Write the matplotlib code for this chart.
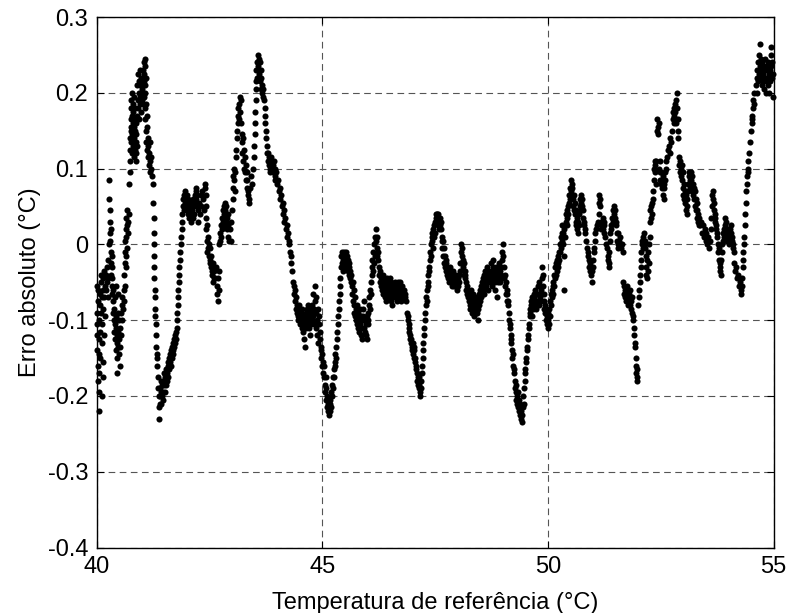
import matplotlib
matplotlib.use("Agg")
import matplotlib.pyplot as plt

plt.rcParams['font.family'] = ['Liberation Sans', 'DejaVu Sans']

# (temperature °C, absolute error °C), grouped by region
seg_40_41 = [
(40.00,-0.055),(40.00,-0.090),(40.00,-0.120),(40.01,-0.140),(40.01,-0.105),(40.02,-0.075),(40.02,-0.160),(40.03,-0.060),(40.03,-0.180),(40.04,-0.125),(40.04,-0.145),(40.05,-0.195),(40.05,-0.100),(40.06,-0.220),(40.06,-0.170),(40.07,-0.080),(40.07,-0.150),(40.08,-0.065),(40.08,-0.115),(40.09,-0.050),(40.09,-0.090),(40.10,-0.040),(40.11,-0.070),(40.11,-0.130),(40.12,-0.105),(40.12,-0.200),(40.13,-0.155),(40.13,-0.175),(40.14,-0.060),(40.15,-0.085),(40.15,-0.045),(40.16,-0.120),(40.17,-0.035),(40.17,-0.070),(40.18,-0.055),(40.19,-0.095),(40.20,-0.040),(40.21,-0.060),(40.22,-0.030),(40.23,-0.050),(40.24,-0.070),(40.25,-0.045),(40.26,-0.020),(40.27,0.000),
(40.28,0.085),(40.28,0.060),(40.29,0.045),(40.29,0.030),(40.30,0.015),(40.30,0.005),(40.31,-0.010),(40.31,0.020),(40.32,-0.025),(40.32,-0.040),(40.33,-0.015),(40.33,-0.055),(40.34,-0.030),(40.35,-0.045),(40.35,-0.065),
(40.36,-0.075),(40.37,-0.090),(40.37,-0.060),(40.38,-0.100),(40.39,-0.085),(40.39,-0.115),(40.40,-0.070),(40.40,-0.105),(40.41,-0.125),(40.42,-0.095),(40.42,-0.140),(40.43,-0.110),(40.43,-0.055),(40.44,-0.130),(40.45,-0.100),(40.45,-0.150),(40.46,-0.120),(40.46,-0.170),(40.47,-0.090),(40.47,-0.135),(40.48,-0.115),(40.48,-0.065),(40.49,-0.145),(40.50,-0.125),(40.50,-0.100),(40.51,-0.160),(40.52,-0.135),(40.52,-0.110),(40.53,-0.090),(40.54,-0.120),(40.55,-0.080),(40.56,-0.100),(40.57,-0.070),(40.58,-0.085),
(40.60,-0.060),(40.61,-0.075),(40.61,-0.040),(40.62,-0.025),(40.62,-0.055),(40.63,-0.010),(40.63,0.005),(40.64,0.020),(40.64,-0.030),(40.65,0.035),(40.65,0.010),(40.66,-0.015),(40.67,0.045),(40.67,0.025),(40.68,-0.005),(40.69,0.015),(40.70,0.030),(40.71,0.040),
(40.72,0.080),(40.73,0.095),(40.73,0.110),(40.74,0.125),(40.74,0.140),(40.75,0.155),(40.75,0.165),(40.76,0.180),(40.76,0.135),(40.77,0.190),(40.77,0.150),(40.78,0.170),(40.78,0.120),(40.79,0.200),(40.79,0.145),(40.80,0.160),(40.80,0.185),(40.81,0.130),(40.81,0.175),(40.82,0.115),(40.82,0.155),(40.83,0.140),(40.83,0.195),(40.84,0.165),(40.84,0.125),(40.85,0.180),(40.85,0.150),(40.86,0.135),(40.86,0.110),(40.87,0.160),(40.88,0.145),(40.88,0.120),(40.89,0.130),(40.90,0.170),(40.90,0.210),(40.91,0.190),(40.92,0.225),(40.92,0.180),(40.93,0.200),(40.94,0.215),(40.94,0.165),(40.95,0.230),(40.96,0.195),(40.96,0.210),(40.97,0.185),(40.98,0.220),(40.98,0.200),(40.99,0.175),
]
seg_41_42 = [
(41.00,0.205),(41.00,0.190),(41.01,0.215),(41.02,0.185),(41.02,0.230),(41.03,0.200),(41.04,0.240),(41.04,0.215),(41.05,0.225),(41.05,0.195),(41.06,0.245),(41.06,0.210),(41.07,0.235),(41.07,0.180),(41.08,0.200),(41.08,0.165),(41.09,0.220),(41.09,0.150),(41.10,0.185),(41.10,0.135),(41.11,0.170),(41.11,0.125),(41.12,0.155),(41.13,0.140),(41.13,0.115),(41.14,0.130),(41.15,0.120),(41.16,0.105),(41.17,0.135),(41.18,0.110),(41.19,0.095),(41.20,0.115),(41.21,0.100),(41.22,0.090),
(41.25,0.080),(41.25,0.055),(41.26,0.035),(41.26,0.015),(41.27,0.000),(41.27,-0.015),(41.28,-0.030),(41.28,-0.045),(41.29,-0.060),(41.29,-0.070),(41.30,-0.085),(41.30,-0.095),(41.31,-0.105),(41.32,-0.120),(41.32,-0.135),(41.33,-0.150),(41.34,-0.145),(41.34,-0.160),(41.35,-0.175),(41.36,-0.190),(41.37,-0.200),(41.38,-0.215),(41.39,-0.230),(41.40,-0.210),(41.40,-0.190),(41.41,-0.200),(41.42,-0.180),(41.42,-0.195),(41.43,-0.210),(41.44,-0.185),(41.45,-0.200),
(41.46,-0.195),(41.47,-0.180),(41.48,-0.205),(41.49,-0.185),(41.50,-0.170),(41.51,-0.195),(41.52,-0.175),(41.53,-0.185),(41.54,-0.165),(41.55,-0.180),(41.56,-0.170),(41.57,-0.155),(41.58,-0.175),(41.59,-0.160),(41.60,-0.150),(41.61,-0.165),(41.62,-0.155),(41.63,-0.145),(41.64,-0.160),(41.65,-0.140),(41.66,-0.150),(41.67,-0.135),(41.68,-0.145),(41.69,-0.130),(41.70,-0.140),(41.71,-0.125),(41.72,-0.135),(41.73,-0.120),(41.74,-0.130),(41.75,-0.115),(41.76,-0.125),(41.77,-0.110),
(41.78,-0.100),(41.79,-0.090),(41.80,-0.080),(41.80,-0.070),(41.81,-0.060),(41.82,-0.050),(41.82,-0.040),(41.83,-0.030),(41.84,-0.020),(41.85,-0.010),(41.86,0.000),(41.87,0.010),(41.88,0.020),(41.89,0.030),(41.90,0.040),(41.91,0.050),(41.92,0.060),(41.93,0.045),
(41.94,0.065),(41.95,0.055),(41.96,0.070),(41.97,0.050),(41.98,0.060),(41.99,0.045),
]
seg_42_43 = [
(42.00,0.065),(42.01,0.055),(42.02,0.040),(42.03,0.060),(42.04,0.050),(42.05,0.035),(42.06,0.055),(42.07,0.045),(42.08,0.030),(42.09,0.050),(42.10,0.040),(42.11,0.055),(42.12,0.045),(42.13,0.035),(42.14,0.060),(42.15,0.050),(42.16,0.040),(42.17,0.065),(42.18,0.055),(42.19,0.070),(42.20,0.060),(42.21,0.075),(42.22,0.050),(42.23,0.065),(42.24,0.045),(42.25,0.030),
(42.26,0.055),(42.28,0.040),(42.30,0.065),(42.32,0.050),(42.34,0.070),(42.36,0.060),(42.38,0.045),(42.40,0.075),(42.41,0.080),(42.42,0.065),(42.42,0.050),(42.43,0.035),(42.43,0.020),(42.44,0.005),(42.44,-0.010),(42.45,0.025),(42.46,0.010),(42.47,-0.005),(42.48,0.000),(42.49,-0.015),(42.50,-0.020),(42.51,-0.005),(42.52,-0.025),(42.53,-0.030),(42.54,-0.015),(42.55,-0.035),(42.56,-0.040),(42.57,-0.025),(42.58,-0.050),(42.59,-0.045),
(42.60,-0.035),(42.62,-0.045),(42.64,-0.030),(42.66,-0.055),(42.67,-0.065),(42.68,-0.045),(42.69,-0.075),(42.70,-0.060),(42.71,-0.035),
(42.72,0.000),(42.73,0.015),(42.74,0.005),(42.75,0.025),(42.76,0.010),(42.77,0.035),(42.78,0.020),(42.79,0.045),(42.80,0.030),(42.81,0.050),(42.82,0.040),(42.83,0.025),(42.84,0.055),(42.85,0.045),(42.86,0.030),(42.87,0.050),(42.88,0.035),(42.89,0.020),(42.90,0.040),(42.91,0.010),(42.92,0.025),(42.93,0.005),(42.96,0.020),(42.97,0.005),(42.98,0.030),
]
seg_43_44 = [
(43.00,0.045),(43.01,0.060),(43.02,0.075),(43.03,0.090),(43.04,0.100),(43.05,0.085),(43.06,0.070),(43.07,0.095),
(43.08,0.115),(43.09,0.125),(43.10,0.140),(43.11,0.150),(43.12,0.160),(43.13,0.170),(43.14,0.180),(43.15,0.165),(43.16,0.185),(43.17,0.195),(43.18,0.175),(43.19,0.190),(43.20,0.160),(43.21,0.145),
(43.22,0.135),(43.23,0.120),(43.24,0.140),(43.25,0.110),(43.26,0.125),(43.27,0.100),(43.28,0.115),(43.29,0.095),(43.30,0.105),(43.31,0.085),(43.32,0.095),(43.33,0.075),(43.34,0.085),(43.35,0.065),(43.36,0.070),(43.37,0.055),(43.38,0.060),
(43.40,0.075),(43.42,0.090),(43.44,0.080),(43.46,0.100),(43.48,0.115),(43.49,0.130),(43.50,0.145),(43.50,0.160),(43.51,0.175),(43.52,0.190),(43.52,0.205),
(43.53,0.215),(43.54,0.230),(43.55,0.220),(43.56,0.240),(43.57,0.250),(43.58,0.235),(43.59,0.245),(43.60,0.225),(43.61,0.240),(43.62,0.215),(43.63,0.230),(43.64,0.205),(43.65,0.220),(43.66,0.200),(43.67,0.210),(43.68,0.195),(43.69,0.205),
(43.70,0.190),(43.72,0.180),(43.73,0.170),(43.74,0.160),(43.75,0.150),(43.76,0.140),(43.77,0.130),(43.78,0.120),(43.79,0.110),(43.80,0.120),(43.81,0.105),(43.82,0.115),(43.83,0.100),(43.84,0.110),(43.85,0.095),(43.86,0.115),(43.87,0.105),(43.88,0.100),(43.89,0.110),(43.90,0.095),(43.91,0.105),(43.92,0.100),(43.93,0.110),(43.94,0.090),(43.95,0.100),(43.96,0.085),(43.98,0.095),
]
seg_44_45 = [
(44.00,0.080),(44.02,0.085),(44.04,0.070),(44.06,0.075),(44.07,0.060),(44.09,0.065),(44.10,0.050),(44.12,0.055),(44.13,0.040),(44.15,0.045),(44.16,0.030),(44.18,0.035),(44.19,0.020),(44.21,0.025),(44.22,0.010),(44.24,0.015),(44.25,0.000),(44.27,0.005),(44.28,-0.010),(44.30,-0.015),(44.31,-0.025),(44.32,-0.035),
(44.36,-0.050),(44.37,-0.065),(44.38,-0.055),(44.39,-0.075),(44.40,-0.060),(44.41,-0.085),(44.42,-0.070),(44.43,-0.090),(44.44,-0.080),(44.45,-0.095),(44.46,-0.085),(44.47,-0.100),(44.48,-0.090),(44.49,-0.080),(44.50,-0.095),(44.51,-0.105),(44.52,-0.090),(44.53,-0.100),(44.54,-0.085),(44.55,-0.110),
(44.56,-0.095),(44.57,-0.115),(44.58,-0.100),(44.59,-0.125),(44.60,-0.105),(44.61,-0.135),(44.62,-0.095),(44.63,-0.110),(44.64,-0.090),(44.65,-0.100),(44.66,-0.085),(44.67,-0.105),(44.68,-0.090),(44.69,-0.080),(44.70,-0.095),(44.71,-0.110),(44.72,-0.100),(44.73,-0.120),(44.74,-0.090),(44.75,-0.105),(44.76,-0.085),(44.77,-0.100),
(44.78,-0.080),(44.79,-0.095),(44.80,-0.065),(44.81,-0.105),(44.82,-0.085),(44.83,-0.075),(44.84,-0.055),(44.85,-0.090),(44.86,-0.110),(44.87,-0.070),(44.88,-0.100),(44.89,-0.120),(44.90,-0.085),(44.91,-0.130),(44.92,-0.105),(44.93,-0.095),(44.94,-0.115),(44.95,-0.125),(44.96,-0.140),(44.97,-0.150),(44.98,-0.135),(44.99,-0.160),
]
seg_45_46 = [
(45.00,-0.145),(45.01,-0.170),(45.02,-0.155),(45.03,-0.175),(45.04,-0.160),(45.05,-0.185),(45.06,-0.195),(45.07,-0.175),(45.08,-0.205),(45.09,-0.190),(45.10,-0.215),(45.11,-0.200),(45.12,-0.220),(45.13,-0.210),(45.14,-0.225),(45.15,-0.215),(45.16,-0.205),(45.17,-0.220),(45.18,-0.210),(45.19,-0.195),(45.20,-0.215),(45.21,-0.185),(45.22,-0.200),(45.23,-0.175),(45.24,-0.190),
(45.25,-0.165),(45.26,-0.175),(45.27,-0.155),(45.28,-0.160),(45.29,-0.145),(45.30,-0.150),(45.31,-0.135),(45.32,-0.125),(45.33,-0.115),(45.34,-0.105),(45.35,-0.095),(45.36,-0.085),(45.37,-0.075),(45.38,-0.065),(45.39,-0.055),(45.40,-0.045),
(45.41,-0.030),(45.42,-0.015),(45.43,-0.025),(45.44,-0.010),(45.45,-0.020),(45.46,-0.035),(45.47,-0.010),(45.48,-0.025),(45.49,-0.015),(45.50,-0.030),(45.51,-0.020),(45.52,-0.010),(45.53,-0.025),(45.54,-0.015),(45.55,-0.030),(45.56,-0.020),(45.57,-0.035),(45.58,-0.025),(45.59,-0.040),(45.60,-0.030),(45.61,-0.045),(45.62,-0.035),(45.63,-0.050),(45.64,-0.040),
(45.65,-0.055),(45.66,-0.065),(45.67,-0.050),(45.68,-0.075),(45.69,-0.060),(45.70,-0.080),(45.71,-0.090),(45.72,-0.070),(45.73,-0.095),(45.74,-0.085),(45.75,-0.100),(45.76,-0.080),(45.77,-0.105),(45.78,-0.090),(45.79,-0.110),(45.80,-0.095),(45.81,-0.115),(45.82,-0.100),(45.83,-0.085),(45.84,-0.105),(45.85,-0.120),(45.86,-0.095),(45.87,-0.110),(45.88,-0.125),(45.89,-0.100),(45.90,-0.085),(45.91,-0.095),(45.92,-0.075),
(45.93,-0.110),(45.94,-0.100),(45.95,-0.115),(45.96,-0.105),(45.97,-0.120),(45.98,-0.095),(45.99,-0.125),
]
seg_46_47 = [
(46.00,-0.105),(46.01,-0.090),(46.02,-0.100),(46.03,-0.080),(46.04,-0.070),(46.05,-0.085),(46.06,-0.060),(46.07,-0.050),(46.08,-0.065),(46.09,-0.040),
(46.10,-0.030),(46.11,-0.020),(46.12,-0.035),(46.13,-0.010),(46.14,-0.025),(46.15,0.000),(46.16,-0.015),(46.17,0.010),(46.18,0.020),(46.19,0.005),(46.20,-0.005),(46.21,-0.015),(46.22,0.010),(46.23,-0.010),(46.24,-0.020),
(46.25,-0.030),(46.26,-0.040),(46.27,-0.035),(46.28,-0.050),(46.29,-0.040),(46.30,-0.055),(46.31,-0.045),(46.32,-0.060),(46.33,-0.050),(46.34,-0.040),(46.35,-0.065),(46.36,-0.055),(46.37,-0.045),(46.38,-0.060),(46.39,-0.070),(46.40,-0.050),(46.41,-0.065),(46.42,-0.075),(46.43,-0.055),(46.44,-0.045),(46.45,-0.060),(46.46,-0.050),(46.47,-0.070),(46.48,-0.060),(46.49,-0.045),(46.50,-0.065),(46.51,-0.055),(46.52,-0.075),(46.53,-0.050),(46.54,-0.065),(46.55,-0.080),(46.56,-0.060),(46.57,-0.070),(46.58,-0.055),(46.59,-0.065),(46.60,-0.050),(46.61,-0.060),(46.62,-0.070),(46.63,-0.055),(46.64,-0.065),(46.65,-0.075),(46.66,-0.060),(46.67,-0.070),(46.68,-0.050),(46.69,-0.065),
(46.70,-0.055),(46.71,-0.065),(46.72,-0.050),(46.73,-0.070),(46.74,-0.060),(46.75,-0.075),(46.76,-0.065),(46.77,-0.055),(46.78,-0.070),(46.79,-0.060),
(46.80,-0.060),(46.82,-0.070),(46.84,-0.065),(46.86,-0.075),(46.88,-0.090),(46.89,-0.100),(46.90,-0.095),(46.91,-0.110),(46.92,-0.105),(46.93,-0.115),(46.94,-0.125),(46.95,-0.120),(46.96,-0.130),(46.97,-0.125),(46.98,-0.135),(46.99,-0.140),
]
seg_47_48 = [
(47.00,-0.130),(47.01,-0.145),(47.02,-0.135),(47.03,-0.150),(47.04,-0.140),(47.05,-0.155),(47.06,-0.150),(47.07,-0.165),(47.08,-0.160),(47.09,-0.170),(47.10,-0.180),(47.11,-0.175),(47.12,-0.185),(47.13,-0.175),(47.14,-0.190),(47.15,-0.185),(47.16,-0.195),(47.17,-0.200),(47.18,-0.190),(47.19,-0.180),
(47.20,-0.170),(47.21,-0.160),(47.22,-0.150),(47.23,-0.140),(47.24,-0.130),(47.25,-0.120),(47.26,-0.110),(47.27,-0.100),(47.28,-0.090),(47.29,-0.080),(47.30,-0.070),(47.31,-0.075),(47.32,-0.060),(47.33,-0.050),(47.34,-0.055),(47.35,-0.040),(47.36,-0.030),(47.37,-0.035),(47.38,-0.020),(47.39,-0.010),(47.40,-0.015),(47.41,0.000),(47.42,0.010),(47.43,0.005),(47.44,0.015),(47.45,-0.005),(47.46,0.020),(47.47,0.010),(47.48,0.025),(47.49,0.015),(47.50,0.030),
(47.51,0.035),(47.52,0.040),(47.53,0.030),(47.54,0.040),(47.55,0.035),(47.56,0.025),(47.57,0.040),(47.58,0.030),(47.59,0.020),(47.60,0.035),(47.61,0.025),(47.62,0.030),(47.63,0.020),(47.64,0.010),(47.65,0.005),
(47.66,-0.005),(47.67,0.005),(47.68,-0.015),(47.69,-0.005),(47.70,-0.025),(47.71,-0.015),(47.72,-0.030),(47.73,-0.020),(47.74,-0.035),(47.75,-0.025),(47.76,-0.040),(47.77,-0.030),(47.78,-0.045),(47.79,-0.035),(47.80,-0.050),(47.81,-0.040),(47.82,-0.030),(47.83,-0.045),(47.84,-0.035),(47.85,-0.050),(47.86,-0.040),(47.87,-0.055),(47.88,-0.045),(47.89,-0.035),(47.90,-0.050),(47.91,-0.040),(47.92,-0.055),(47.93,-0.045),(47.94,-0.050),(47.95,-0.040),(47.96,-0.055),(47.97,-0.045),(47.98,-0.050),(47.99,-0.060),
]
seg_48_49 = [
(48.00,-0.045),(48.01,-0.055),(48.02,-0.040),(48.03,-0.050),(48.04,-0.035),(48.06,-0.025),(48.07,-0.010),(48.08,0.000),(48.09,-0.015),(48.10,-0.005),(48.11,-0.020),(48.12,-0.030),(48.13,-0.025),(48.14,-0.040),(48.15,-0.035),(48.16,-0.045),(48.17,-0.040),
(48.18,-0.050),(48.19,-0.060),(48.20,-0.055),(48.21,-0.065),(48.22,-0.070),(48.23,-0.060),(48.24,-0.075),(48.25,-0.065),(48.26,-0.080),(48.27,-0.070),(48.28,-0.085),(48.29,-0.060),(48.30,-0.075),(48.31,-0.090),(48.32,-0.070),(48.33,-0.080),(48.34,-0.065),(48.35,-0.085),(48.36,-0.075),(48.37,-0.095),(48.38,-0.080),(48.39,-0.070),(48.40,-0.085),(48.41,-0.075),(48.42,-0.090),(48.43,-0.080),(48.44,-0.100),(48.45,-0.085),(48.46,-0.070),(48.47,-0.080),(48.48,-0.065),(48.49,-0.075),(48.50,-0.060),(48.51,-0.070),(48.52,-0.055),
(48.53,-0.065),(48.54,-0.050),(48.55,-0.060),(48.56,-0.045),(48.57,-0.055),(48.58,-0.040),(48.59,-0.065),(48.60,-0.050),(48.61,-0.035),(48.62,-0.045),(48.63,-0.055),(48.64,-0.040),(48.65,-0.030),(48.66,-0.050),(48.67,-0.040),(48.68,-0.060),(48.69,-0.045),(48.70,-0.035),(48.71,-0.050),(48.72,-0.040),(48.73,-0.025),(48.74,-0.045),(48.75,-0.035),(48.76,-0.055),(48.77,-0.040),(48.78,-0.030),(48.79,-0.020),(48.80,-0.045),(48.81,-0.035),(48.82,-0.050),(48.83,-0.060),(48.84,-0.040),(48.85,-0.030),(48.86,-0.045),(48.87,-0.070),(48.88,-0.035),(48.89,-0.050),(48.90,-0.040),(48.91,-0.025),(48.92,-0.045),(48.93,-0.035),(48.94,-0.050),(48.95,-0.040),(48.96,-0.030),(48.97,-0.045),(48.98,-0.020),(48.99,-0.010),
]
seg_49_50 = [
(49.00,0.000),(49.01,-0.015),(49.02,-0.030),(49.03,-0.045),(49.04,-0.040),(49.05,-0.055),(49.06,-0.050),(49.07,-0.065),(49.08,-0.060),(49.09,-0.075),(49.10,-0.065),(49.11,-0.080),(49.12,-0.075),
(49.13,-0.090),(49.14,-0.100),(49.15,-0.110),(49.16,-0.105),(49.17,-0.120),(49.18,-0.130),(49.19,-0.125),(49.20,-0.140),(49.21,-0.150),(49.22,-0.145),(49.23,-0.160),(49.24,-0.170),(49.25,-0.165),(49.26,-0.180),(49.27,-0.190),(49.28,-0.185),(49.29,-0.195),(49.30,-0.205),(49.31,-0.200),(49.32,-0.210),(49.33,-0.195),(49.34,-0.215),(49.35,-0.205),(49.36,-0.220),(49.37,-0.210),(49.38,-0.225),(49.39,-0.215),(49.40,-0.230),(49.41,-0.220),(49.42,-0.235),(49.43,-0.225),(49.44,-0.215),(49.45,-0.200),(49.46,-0.210),(49.47,-0.190),(49.48,-0.180),(49.49,-0.170),
(49.50,-0.165),(49.51,-0.155),(49.52,-0.150),(49.53,-0.140),(49.54,-0.135),(49.55,-0.125),(49.56,-0.120),(49.57,-0.110),(49.58,-0.105),(49.59,-0.095),(49.60,-0.090),(49.61,-0.085),(49.62,-0.080),(49.63,-0.075),(49.64,-0.070),
(49.65,-0.095),(49.66,-0.075),(49.67,-0.085),(49.68,-0.070),(49.69,-0.080),(49.70,-0.065),(49.71,-0.080),(49.72,-0.060),(49.73,-0.075),(49.74,-0.085),(49.75,-0.065),(49.76,-0.080),(49.77,-0.055),(49.78,-0.075),(49.79,-0.050),(49.80,-0.065),(49.81,-0.080),(49.82,-0.070),(49.83,-0.055),(49.84,-0.075),(49.85,-0.060),(49.86,-0.045),(49.87,-0.030),(49.88,-0.055),(49.89,-0.040),(49.90,-0.065),(49.91,-0.075),(49.92,-0.085),
(49.93,-0.080),(49.94,-0.090),(49.95,-0.100),(49.96,-0.085),(49.97,-0.105),(49.98,-0.095),(49.99,-0.110),
]
seg_50_51 = [
(50.00,-0.100),(50.01,-0.090),(50.02,-0.105),(50.03,-0.085),(50.04,-0.095),
(50.05,-0.075),(50.06,-0.065),(50.07,-0.080),(50.08,-0.060),(50.09,-0.070),(50.10,-0.055),(50.11,-0.065),(50.12,-0.050),(50.13,-0.040),(50.14,-0.055),(50.15,-0.045),(50.16,-0.030),(50.17,-0.040),(50.18,-0.025),(50.19,-0.035),(50.20,-0.020),(50.21,-0.030),(50.22,-0.015),(50.23,-0.025),(50.24,-0.010),(50.25,-0.020),(50.26,0.000),(50.27,-0.010),(50.28,0.010),(50.29,-0.005),(50.30,0.015),(50.31,0.005),(50.32,0.025),(50.33,0.015),(50.34,0.000),(50.35,0.020),(50.36,-0.015),(50.37,0.010),(50.35,-0.060),
(50.39,0.030),(50.40,0.040),(50.41,0.025),(50.42,0.045),(50.43,0.035),(50.44,0.050),(50.45,0.040),(50.46,0.055),(50.47,0.065),(50.48,0.060),(50.49,0.075),(50.50,0.085),(50.51,0.070),(50.52,0.080),(50.53,0.065),(50.54,0.075),(50.55,0.060),(50.56,0.050),(50.57,0.065),(50.58,0.045),(50.59,0.055),(50.60,0.040),
(50.61,0.030),(50.62,0.045),(50.63,0.025),(50.64,0.035),(50.65,0.020),(50.66,0.015),(50.67,0.030),(50.68,0.025),(50.69,0.040),(50.70,0.050),(50.71,0.060),(50.72,0.055),(50.73,0.065),(50.74,0.045),(50.75,0.060),(50.76,0.050),(50.77,0.035),(50.78,0.045),(50.79,0.025),(50.80,0.030),(50.81,0.015),(50.82,0.020),
(50.84,0.005),(50.86,-0.005),(50.88,-0.015),(50.89,-0.010),(50.90,-0.020),(50.91,-0.030),(50.92,-0.025),(50.93,-0.035),(50.94,-0.020),(50.95,-0.030),(50.96,-0.040),(50.97,-0.035),(50.98,-0.050),(50.99,-0.030),
]
seg_51_52 = [
(51.00,-0.020),(51.01,-0.010),(51.02,-0.005),(51.03,0.005),(51.04,0.015),
(51.06,0.020),(51.08,0.025),(51.10,0.030),(51.12,0.040),(51.13,0.055),(51.14,0.065),(51.15,0.060),(51.16,0.050),(51.17,0.030),(51.18,0.020),(51.19,0.030),(51.20,0.025),(51.21,0.035),(51.22,0.020),(51.23,0.030),(51.24,0.015),(51.25,0.025),
(51.27,0.010),(51.29,0.000),(51.31,-0.005),(51.32,-0.015),(51.33,-0.020),(51.34,-0.030),(51.35,-0.025),(51.36,-0.010),(51.37,0.005),(51.38,0.015),(51.39,0.020),
(51.40,0.025),(51.42,0.035),(51.44,0.030),(51.45,0.045),(51.46,0.040),(51.47,0.050),(51.48,0.035),(51.49,0.045),(51.50,0.025),(51.51,0.030),(51.52,0.015),(51.53,0.005),(51.54,-0.005),(51.55,0.000),
(51.56,0.015),(51.58,0.005),(51.60,0.010),(51.62,-0.005),(51.64,0.000),(51.66,-0.010),
(51.67,-0.050),(51.68,-0.065),(51.69,-0.055),(51.70,-0.070),(51.71,-0.060),(51.72,-0.075),(51.73,-0.065),(51.74,-0.055),(51.75,-0.070),(51.76,-0.060),(51.77,-0.075),(51.78,-0.080),(51.79,-0.070),(51.80,-0.065),(51.81,-0.080),(51.82,-0.060),(51.83,-0.075),(51.84,-0.085),(51.85,-0.070),
(51.87,-0.090),(51.88,-0.100),(51.89,-0.095),(51.90,-0.110),(51.91,-0.120),(51.92,-0.130),(51.93,-0.135),(51.94,-0.150),(51.95,-0.160),(51.96,-0.170),(51.97,-0.175),(51.98,-0.165),(51.97,-0.180),
]
seg_52_53 = [
(52.00,-0.080),(52.01,-0.070),(52.02,-0.060),(52.03,-0.050),(52.04,-0.040),(52.05,-0.030),(52.06,-0.020),(52.07,-0.010),(52.08,0.000),(52.09,0.005),(52.10,-0.005),(52.11,0.010),(52.12,0.000),(52.13,0.015),(52.14,0.005),
(52.15,-0.005),(52.16,-0.015),(52.17,-0.030),(52.18,-0.040),(52.19,-0.020),(52.20,-0.045),(52.21,-0.010),(52.22,-0.035),(52.23,0.000),(52.24,-0.025),(52.25,0.010),(52.26,0.030),(52.27,0.045),(52.28,0.035),(52.29,0.050),(52.30,0.040),(52.31,0.055),(52.32,0.070),(52.33,0.060),(52.34,0.085),(52.35,0.100),(52.36,0.110),(52.37,0.095),(52.38,0.105),(52.39,0.080),(52.40,0.110),(52.41,0.150),(52.42,0.165),(52.43,0.155),(52.44,0.145),(52.45,0.160),(52.46,0.100),(52.47,0.085),(52.48,0.095),(52.49,0.110),(52.50,0.080),
(52.51,0.095),(52.52,0.085),(52.53,0.075),(52.54,0.090),(52.55,0.065),(52.56,0.080),(52.57,0.060),(52.58,0.075),(52.59,0.095),(52.60,0.085),(52.61,0.100),(52.62,0.110),
(52.64,0.115),(52.66,0.125),(52.68,0.130),(52.70,0.120),(52.71,0.140),(52.72,0.135),
(52.74,0.150),(52.76,0.165),(52.77,0.175),(52.78,0.160),(52.79,0.180),(52.80,0.170),(52.81,0.185),(52.82,0.175),(52.83,0.160),(52.84,0.190),(52.85,0.200),(52.86,0.180),(52.87,0.165),(52.88,0.150),(52.89,0.140),
(52.90,0.115),(52.91,0.105),(52.92,0.110),(52.93,0.095),(52.94,0.100),(52.95,0.090),(52.96,0.105),(52.97,0.085),(52.98,0.095),(52.99,0.075),
]
seg_53_54 = [
(53.00,0.065),(53.01,0.080),(53.02,0.060),(53.03,0.070),(53.04,0.055),(53.05,0.045),(53.06,0.065),(53.07,0.050),(53.08,0.060),(53.09,0.040),(53.10,0.070),(53.11,0.080),(53.12,0.090),(53.13,0.095),(53.14,0.085),(53.15,0.075),
(53.16,0.095),(53.17,0.085),(53.18,0.080),(53.19,0.090),(53.20,0.070),(53.21,0.080),(53.22,0.065),(53.23,0.075),(53.24,0.060),(53.25,0.070),(53.26,0.050),(53.27,0.060),(53.28,0.045),(53.29,0.055),(53.30,0.035),(53.31,0.045),(53.32,0.030),(53.33,0.040),(53.34,0.025),
(53.35,0.035),(53.37,0.025),(53.39,0.030),(53.41,0.015),(53.43,0.025),(53.45,0.010),(53.47,0.020),(53.49,0.005),(53.51,0.015),(53.53,0.000),(53.55,0.010),(53.57,-0.005),(53.59,0.005),(53.61,0.020),(53.62,0.035),(53.63,0.050),(53.64,0.065),(53.65,0.070),(53.66,0.060),(53.67,0.045),(53.68,0.055),(53.69,0.040),(53.70,0.030),(53.71,0.035),(53.72,0.020),(53.73,0.025),(53.74,0.010),(53.75,0.015),(53.76,0.000),(53.77,-0.010),(53.78,-0.020),(53.79,-0.005),(53.80,-0.025),(53.81,-0.035),(53.82,-0.030),(53.83,-0.040),(53.84,-0.020),(53.85,-0.010),(53.86,0.000),(53.87,0.005),(53.88,0.015),(53.89,0.020),(53.90,0.010),(53.91,0.025),(53.92,0.035),(53.93,0.020),(53.94,0.030),(53.95,0.010),(53.96,0.015),(53.97,0.005),(53.98,0.020),(53.99,0.010),
]
seg_54_55 = [
(54.00,0.000),(54.01,0.015),(54.02,0.005),(54.03,0.020),(54.04,0.010),(54.05,0.025),(54.06,0.015),(54.07,0.005),(54.08,0.010),(54.09,-0.005),(54.10,0.000),(54.11,-0.010),
(54.13,-0.025),(54.15,-0.035),(54.17,-0.030),(54.19,-0.045),(54.21,-0.040),(54.23,-0.055),(54.25,-0.050),(54.27,-0.060),(54.28,-0.065),(54.29,-0.055),(54.30,-0.045),(54.31,-0.030),(54.32,-0.020),
(54.33,-0.010),(54.34,0.000),(54.35,0.010),
(54.36,0.025),(54.37,0.040),(54.38,0.055),(54.39,0.070),(54.40,0.080),(54.41,0.090),(54.42,0.100),(54.43,0.095),(54.44,0.110),
(54.46,0.120),(54.48,0.135),(54.50,0.150),(54.51,0.160),(54.52,0.170),(54.53,0.165),(54.54,0.180),(54.55,0.190),(54.56,0.185),(54.57,0.200),
(54.60,0.210),(54.62,0.220),(54.63,0.200),(54.64,0.230),(54.65,0.215),(54.66,0.240),(54.67,0.225),(54.68,0.250),(54.69,0.235),(54.70,0.265),(54.71,0.220),(54.72,0.245),(54.73,0.230),(54.74,0.210),(54.75,0.240),(54.76,0.225),(54.77,0.215),(54.78,0.235),(54.79,0.205),(54.80,0.220),(54.81,0.245),(54.82,0.230),(54.83,0.215),(54.84,0.200),(54.85,0.235),(54.86,0.220),(54.87,0.240),(54.88,0.210),(54.89,0.225),(54.90,0.200),(54.91,0.230),(54.92,0.215),(54.93,0.250),(54.94,0.235),(54.95,0.260),(54.96,0.220),(54.97,0.240),(54.98,0.195),(54.99,0.225),
]

segments = [seg_40_41, seg_41_42, seg_42_43, seg_43_44, seg_44_45, seg_45_46,
            seg_46_47, seg_47_48, seg_48_49, seg_49_50, seg_50_51, seg_51_52,
            seg_52_53, seg_53_54, seg_54_55]

x_ticks = [40, 45, 50, 55]
y_ticks = [-0.4, -0.3, -0.2, -0.1, 0, 0.1, 0.2, 0.3]
y_tick_labels = ['-0.4', '-0.3', '-0.2', '-0.1', '0', '0.1', '0.2', '0.3']
x_label = "Temperatura de referência (°C)"
y_label = "Erro absoluto (°C)"

fig = plt.figure(figsize=(7.87, 6.13), dpi=100)
ax = fig.add_axes([96.7/787, 1-547.5/613, (773.7-96.7)/787, (547.5-17)/613])

for seg in segments:
    xs = [p[0] for p in seg]
    ys = [p[1] for p in seg]
    ax.plot(xs, ys, linestyle='none', marker='o', markersize=4.4,
            color='black', markeredgewidth=0, zorder=3, clip_on=False)

ax.set_xlim(40, 55)
ax.set_ylim(-0.4, 0.3)
ax.set_xticks(x_ticks)
ax.set_xticklabels([str(t) for t in x_ticks])
ax.set_yticks(y_ticks)
ax.set_yticklabels(y_tick_labels)
ax.grid(True, linestyle=(0, (6, 4)), color='#555555', linewidth=0.8)
ax.set_axisbelow(True)
ax.tick_params(direction='in', length=5, width=0.8, labelsize=17, pad=6,
               top=True, right=True)
for s in ax.spines.values():
    s.set_linewidth(1.0)
ax.set_xlabel(x_label, fontsize=17, labelpad=10)
ax.set_ylabel(y_label, fontsize=17, labelpad=5)

fig.savefig('out.png', dpi=100)
